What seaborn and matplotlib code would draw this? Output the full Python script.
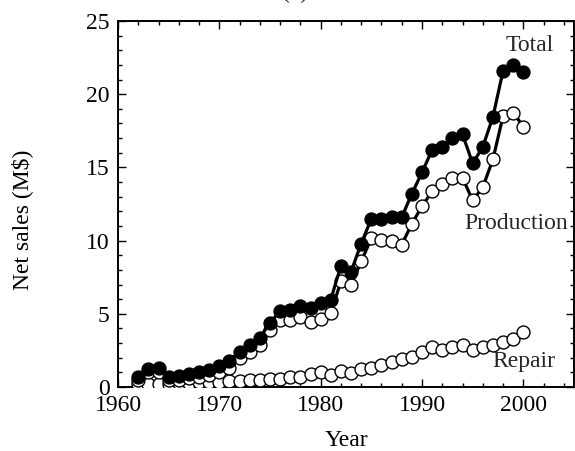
import matplotlib
matplotlib.use("Agg")
import matplotlib.pyplot as plt
from matplotlib.ticker import MultipleLocator
import seaborn as sns
import pandas as pd

years = list(range(1962, 2001))
total = [0.66, 1.25, 1.27, 0.66, 0.75, 0.89, 1.03, 1.16, 1.46, 1.80,
         2.40, 2.88, 3.36, 4.40, 5.18, 5.23, 5.50, 5.40, 5.72, 5.97,
         8.29, 7.88, 9.80, 11.49, 11.49, 11.60, 11.60, 13.20, 14.66, 16.19,
         16.40, 17.03, 17.26, 15.27, 16.40, 18.45, 21.60, 22.00, 21.55]
production = [0.45, 1.00, 1.00, 0.45, 0.50, 0.60, 0.70, 0.85, 1.05, 1.32,
              2.00, 2.40, 2.88, 3.86, 4.59, 4.55, 4.77, 4.47, 4.63, 5.07,
              7.21, 6.96, 8.58, 10.16, 10.07, 10.00, 9.73, 11.14, 12.35, 13.36,
              13.84, 14.29, 14.29, 12.74, 13.65, 15.55, 18.51, 18.75, 17.79]
repair = [0.18, 0.20, 0.20, 0.20, 0.25, 0.30, 0.35, 0.35, 0.35, 0.40,
          0.42, 0.45, 0.50, 0.55, 0.55, 0.65, 0.68, 0.89, 1.03, 0.82,
          1.12, 0.96, 1.21, 1.32, 1.48, 1.69, 1.94, 2.08, 2.37, 2.72,
          2.53, 2.76, 2.88, 2.53, 2.76, 2.88, 3.04, 3.31, 3.79]
series_labels = ["Total", "Production", "Repair"]
title_text = "(a)"
xlabel = "Year"
ylabel = "Net sales (M$)"

df = pd.DataFrame({"Year": years, "Total": total,
                   "Production": production, "Repair": repair})

sns.set_style("ticks")
plt.rcParams["font.family"] = ["Liberation Serif", "DejaVu Serif"]
plt.rcParams["mathtext.fontset"] = "stix"

fig = plt.figure(figsize=(5.75, 4.51), dpi=100)
ax = fig.add_axes([118 / 575, 1 - 387 / 451, (574 - 118) / 575, (387 - 21) / 451])

common = dict(color="black", linewidth=2.3, marker="o", markersize=9.3,
              markeredgecolor="black", markeredgewidth=1.0, ax=ax,
              legend=False)
sns.lineplot(data=df, x="Year", y="Repair", markerfacecolor="white",
             zorder=3, **common)
sns.lineplot(data=df, x="Year", y="Production", markerfacecolor="white",
             zorder=4, **common)
sns.lineplot(data=df, x="Year", y="Total", markerfacecolor="black",
             zorder=5, **common)

ax.set_xlim(1960, 2005)
ax.set_ylim(0, 25)
ax.xaxis.set_major_locator(MultipleLocator(10))
ax.xaxis.set_minor_locator(MultipleLocator(2))
ax.yaxis.set_major_locator(MultipleLocator(5))
ax.yaxis.set_minor_locator(MultipleLocator(1))
ax.tick_params(which="both", direction="in", top=True, right=True,
               labelsize=17, width=1.0, color="black", labelcolor="black")
ax.tick_params(which="major", length=6, pad=6)
ax.tick_params(which="minor", length=3)
for s in ax.spines.values():
    s.set_linewidth(1.4)
    s.set_color("black")

ax.set_xlabel(xlabel, fontsize=17, color="black", labelpad=10)
ax.set_ylabel(ylabel, fontsize=17, color="black", va="center")
ax.yaxis.set_label_coords((22 - 118) / 456, (387 - 220) / 366)

fs = 17
ax.text(2000.6, 23.3, series_labels[0], fontsize=fs, ha="center", va="center")
ax.text(1999.3, 11.2, series_labels[1], fontsize=fs, ha="center", va="center")
ax.text(2000.1, 1.75, series_labels[2], fontsize=fs, ha="center", va="center")
fig.text(295 / 575, 1 - 3 / 451, title_text, fontsize=17, ha="center", va="bottom")

fig.savefig("out.png", dpi=100)
